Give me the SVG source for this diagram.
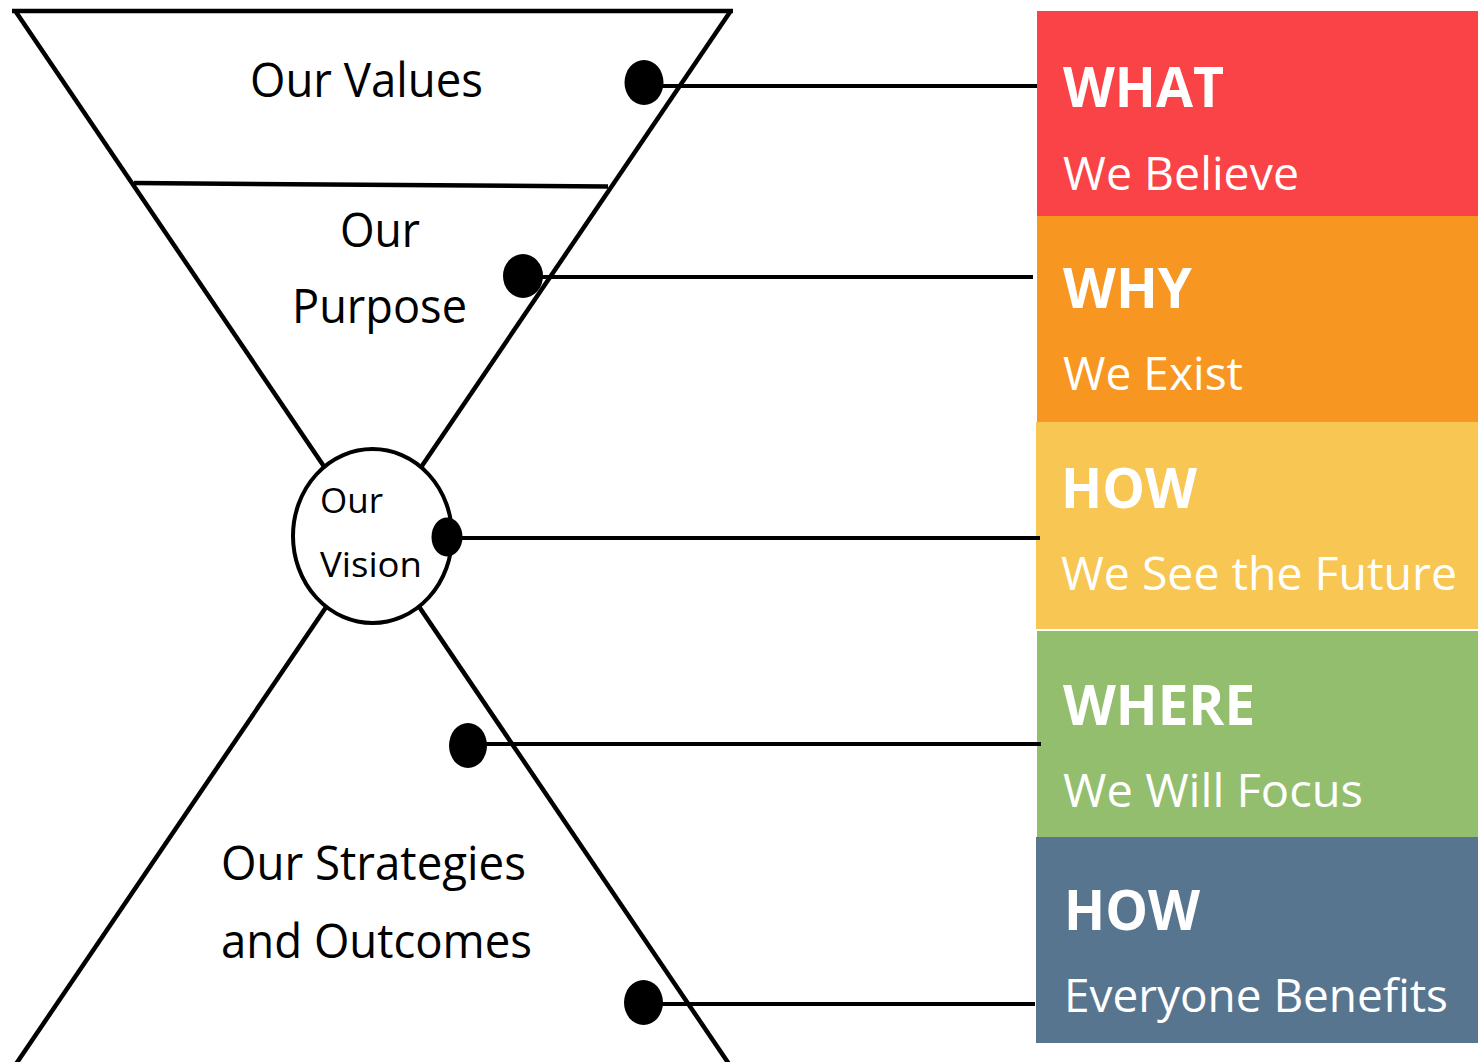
<svg xmlns="http://www.w3.org/2000/svg" width="1478" height="1062" viewBox="0 0 1478 1062">
<style>
.ln{stroke:#000;stroke-width:4.5;fill:none;stroke-linecap:butt}
.cn{stroke:#000;stroke-width:4;fill:none}
.dot{fill:#000}
.lt{font-family:"Open Sans","Noto Sans",sans-serif;font-size:47px;fill:#000}
.st{font-family:"Open Sans","Noto Sans",sans-serif;font-size:35px;fill:#000}
.hd{font-family:"Open Sans","Noto Sans",sans-serif;font-size:56px;font-weight:bold;fill:#fff}
.sb{font-family:"Open Sans","Noto Sans",sans-serif;font-size:46px;fill:#fff}
</style>
<rect width="1478" height="1062" fill="#fff"/>
<g id="hourglass">
  <line class="ln" x1="12" y1="11" x2="733" y2="11"/>
  <line class="ln" x1="16" y1="12" x2="729" y2="1064"/>
  <line class="ln" x1="730" y1="12" x2="16" y2="1064"/>
</g>
<g id="values">
  <text class="lt" x="250" y="97" textLength="233" lengthAdjust="spacingAndGlyphs">Our Values</text>
</g>
<g id="purpose">
  <line class="ln" x1="134" y1="183" x2="608" y2="186.5"/>
  <text class="lt" x="340" y="247" textLength="80" lengthAdjust="spacingAndGlyphs">Our</text>
  <text class="lt" x="292" y="323" textLength="175" lengthAdjust="spacingAndGlyphs">Purpose</text>
</g>
<g id="vision">
  <ellipse cx="372.5" cy="536" rx="79.5" ry="87" fill="#fff" stroke="#000" stroke-width="4"/>
  <text class="st" x="320" y="513" textLength="63" lengthAdjust="spacingAndGlyphs">Our</text>
  <text class="st" x="320" y="577" textLength="102" lengthAdjust="spacingAndGlyphs">Vision</text>
</g>
<g id="strategies">
  <text class="lt" x="221" y="880" textLength="305" lengthAdjust="spacingAndGlyphs">Our Strategies</text>
  <text class="lt" x="221" y="958" textLength="311" lengthAdjust="spacingAndGlyphs">and Outcomes</text>
</g>
<g id="what">
  <rect x="1037" y="11" width="441" height="205" fill="#F94346"/>
  <text class="hd" x="1063" y="107" textLength="161" lengthAdjust="spacingAndGlyphs">WHAT</text>
  <text class="sb" x="1063" y="190" textLength="236" lengthAdjust="spacingAndGlyphs">We Believe</text>
</g>
<g id="why">
  <rect x="1037" y="216" width="441" height="206" fill="#F79621"/>
  <text class="hd" x="1063" y="308" textLength="129" lengthAdjust="spacingAndGlyphs">WHY</text>
  <text class="sb" x="1063" y="390" textLength="180" lengthAdjust="spacingAndGlyphs">We Exist</text>
</g>
<g id="how1">
  <rect x="1036" y="422" width="442" height="207" fill="#F8C652"/>
  <text class="hd" x="1061" y="508" textLength="136" lengthAdjust="spacingAndGlyphs">HOW</text>
  <text class="sb" x="1061" y="590" textLength="396" lengthAdjust="spacingAndGlyphs">We See the Future</text>
</g>
<g id="where">
  <rect x="1037" y="631" width="441" height="206" fill="#92BE6E"/>
  <text class="hd" x="1063" y="725" textLength="192" lengthAdjust="spacingAndGlyphs">WHERE</text>
  <text class="sb" x="1063" y="807" textLength="300" lengthAdjust="spacingAndGlyphs">We Will Focus</text>
</g>
<g id="how2">
  <rect x="1036" y="837" width="442" height="206" fill="#58758F"/>
  <text class="hd" x="1064" y="930" textLength="136" lengthAdjust="spacingAndGlyphs">HOW</text>
  <text class="sb" x="1064" y="1012" textLength="384" lengthAdjust="spacingAndGlyphs">Everyone Benefits</text>
</g>
<g id="connectors">
  <line class="cn" x1="644" y1="86" x2="1037" y2="86"/>
  <ellipse class="dot" cx="644" cy="82.5" rx="19.5" ry="22.5"/>
  <line class="cn" x1="523" y1="277" x2="1033" y2="277"/>
  <ellipse class="dot" cx="523" cy="276" rx="20" ry="22"/>
  <line class="cn" x1="447" y1="538" x2="1040" y2="538"/>
  <ellipse class="dot" cx="447" cy="537" rx="15.5" ry="19.5"/>
  <line class="cn" x1="468" y1="744" x2="1041" y2="744"/>
  <ellipse class="dot" cx="468" cy="745.5" rx="19" ry="22.5"/>
  <line class="cn" x1="644" y1="1004" x2="1035" y2="1004"/>
  <ellipse class="dot" cx="643.5" cy="1002.5" rx="19.5" ry="22.5"/>
</g>
</svg>
